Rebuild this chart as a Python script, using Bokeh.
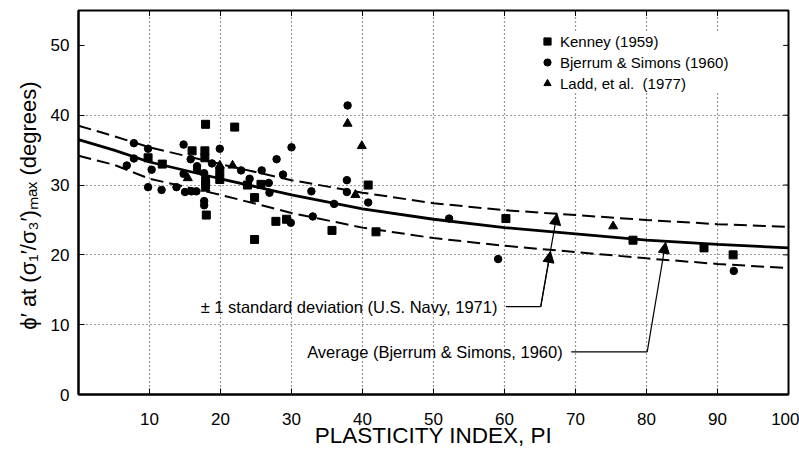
from bokeh.plotting import figure
from bokeh.models import (ColumnDataSource, Range1d, FixedTicker, Legend,
                          LegendItem, Arrow, NormalHead, Label)
from bokeh.embed import file_html
from bokeh.resources import INLINE

# ---------------- data ----------------
kenney_pi = [9.8, 11.8, 16.0, 17.8, 17.8, 17.9, 22.0, 17.9, 17.9, 18.0, 19.9, 19.9,
             23.8, 24.8, 25.7, 24.8, 27.8, 29.3, 35.7, 40.8, 41.9, 60.2, 78.1, 88.1, 92.2]
kenney_phi = [33.9, 33.0, 34.9, 34.9, 33.9, 38.7, 38.3, 30.6, 30.0, 25.7, 31.9, 30.8,
              30.0, 28.2, 30.1, 22.2, 24.8, 25.1, 23.5, 30.0, 23.3, 25.2, 22.1, 21.0, 20.0]

bjerrum_pi = [6.8, 7.8, 7.8, 9.8, 10.3, 9.8, 11.7, 13.8, 14.8, 14.8, 15.0, 15.9, 16.6,
              15.8, 16.7, 16.7, 17.7, 17.7, 17.7, 18.8, 19.9, 22.9, 24.1, 25.8, 26.8,
              26.9, 27.9, 28.8, 30.0, 29.9, 32.8, 33.0, 36.0, 37.8, 37.8, 37.9, 40.8,
              52.2, 59.1, 92.3]
bjerrum_phi = [32.8, 36.0, 33.8, 35.2, 32.2, 29.7, 29.3, 29.7, 35.8, 31.6, 29.0, 29.1, 29.1,
               33.7, 32.7, 32.2, 31.7, 27.7, 27.1, 33.1, 35.2, 32.1, 30.9, 32.1, 30.3,
               28.9, 33.7, 31.5, 35.4, 24.6, 29.1, 25.5, 27.3, 30.7, 29.0, 41.4, 27.5,
               25.2, 19.4, 17.7]

ladd_pi = [15.4, 17.9, 19.9, 21.7, 37.9, 39.9, 39.0, 75.3]
ladd_phi = [31.0, 29.5, 32.8, 32.8, 38.8, 35.6, 28.6, 24.1]

curve_pi = [0, 5, 10, 20, 30, 40, 50, 60, 70, 80, 90, 100]
avg_phi = [36.5, 35.0, 33.3, 30.9, 28.6, 26.6, 25.1, 23.9, 23.0, 22.1, 21.5, 21.0]
upper_phi = [38.5, 37.0, 35.4, 33.0, 30.7, 28.9, 27.4, 26.4, 25.7, 25.0, 24.4, 24.0]
lower_phi = [34.2, 32.9, 30.9, 28.6, 26.0, 23.9, 22.4, 21.3, 20.4, 19.5, 18.7, 18.1]

x_ticks = [10, 20, 30, 40, 50, 60, 70, 80, 90, 100]
y_ticks = [0, 10, 20, 30, 40, 50]
x_grid = [10, 20, 30, 40, 50, 60, 70, 80, 90]
y_grid = [10, 20, 30, 40]
top_ticks = [10, 20, 30, 40, 50, 60, 70, 80, 90]
right_ticks = [10, 20, 30, 40, 50]

series_labels = ["Kenney (1959)", "Bjerrum & Simons (1960)", "Ladd, et al.  (1977)"]

# annotation anchors (data coordinates)
sd_text = "\u00b1 1 standard deviation (U.S. Navy, 1971)"
sd_text_xy = (59.0, 12.6)
sd_leader_x = [60.2, 65.1]
sd_leader_y = [12.6, 12.6]
sd_arrow_low = (66.47, 20.5)
sd_arrow_up = (67.4, 25.9)

avg_text = "Average (Bjerrum & Simons, 1960)"
avg_text_xy = (68.2, 6.1)
avg_leader_x = [69.4, 80.1]
avg_leader_y = [6.1, 6.1]
avg_arrow_tip = (82.7, 21.8)

X_MAX, Y_MAX = 100, 55
FONT = "Liberation Sans"

p = figure(frame_width=710, frame_height=384, output_backend="svg", toolbar_location=None,
           x_range=Range1d(0, X_MAX), y_range=Range1d(0, Y_MAX),
           min_border_left=78, min_border_right=11, min_border_top=10, min_border_bottom=54)
p.background_fill_color = "white"
p.border_fill_color = "white"
p.outline_line_color = "black"
p.outline_line_width = 2

# axes
for ax in (p.xaxis[0], p.yaxis[0]):
    ax.major_tick_in = 6
    ax.major_tick_out = 0
    ax.minor_tick_line_color = None
    ax.axis_line_width = 2
    ax.axis_line_color = "black"
    ax.major_tick_line_color = "black"
    ax.major_label_text_font = FONT
    ax.major_label_text_font_size = "17px"
    ax.major_label_text_color = "black"
    ax.axis_label_text_font = FONT
    ax.axis_label_text_font_style = "normal"
    ax.axis_label_text_color = "black"

p.xaxis[0].ticker = FixedTicker(ticks=x_ticks)
p.yaxis[0].ticker = FixedTicker(ticks=y_ticks)
p.xaxis[0].axis_label = "PLASTICITY INDEX, PI"
p.xaxis[0].axis_label_text_font_size = "22.5px"
p.xaxis[0].major_label_standoff = 18
p.xaxis[0].axis_label_standoff = -5
p.yaxis[0].axis_label = "\u03d5\u2032 at (\u03c3\u2081\u2032/\u03c3\u2083\u2032)\u2098\u2090\u2093  (degrees)"
p.yaxis[0].axis_label_text_font_size = "22px"
p.yaxis[0].major_label_standoff = 9
p.yaxis[0].axis_label_standoff = 7

# inward tick marks on the top and right frame edges
tick_len_y = 0.8   # data units (about 5-6 px)
tick_len_x = 0.75
top_src = ColumnDataSource(dict(x=top_ticks, y0=[Y_MAX] * len(top_ticks),
                                y1=[Y_MAX - tick_len_y] * len(top_ticks)))
p.segment(x0="x", y0="y0", x1="x", y1="y1", source=top_src, line_color="black", line_width=1)
right_src = ColumnDataSource(dict(y=right_ticks, x0=[X_MAX] * len(right_ticks),
                                  x1=[X_MAX - tick_len_x] * len(right_ticks)))
p.segment(x0="x0", y0="y", x1="x1", y1="y", source=right_src, line_color="black", line_width=1)

# grid
p.xgrid.ticker = FixedTicker(ticks=x_grid)
p.ygrid.ticker = FixedTicker(ticks=y_grid)
for g in (p.xgrid[0], p.ygrid[0]):
    g.grid_line_color = "#333333"
    g.grid_line_dash = "1 3"
    g.grid_line_width = 1.2

# curves
src_curve = ColumnDataSource(dict(x=curve_pi, avg=avg_phi, up=upper_phi, lo=lower_phi))
p.line("x", "avg", source=src_curve, line_color="black", line_width=2.8)
p.line("x", "up", source=src_curve, line_color="black", line_width=2.0, line_dash="13 6")
p.line("x", "lo", source=src_curve, line_color="black", line_width=2.0, line_dash="13 6")

# data points
src_k = ColumnDataSource(dict(x=kenney_pi, y=kenney_phi))
src_b = ColumnDataSource(dict(x=bjerrum_pi, y=bjerrum_phi))
src_l = ColumnDataSource(dict(x=ladd_pi, y=ladd_phi))
rk = p.scatter("x", "y", source=src_k, marker="square", size=8, color="black")
rb = p.scatter("x", "y", source=src_b, marker="circle", size=7.5, color="black")
rl = p.scatter("x", "y", source=src_l, marker="triangle", size=9, color="black")

legend = Legend(items=[LegendItem(label=series_labels[0], renderers=[rk]),
                       LegendItem(label=series_labels[1], renderers=[rb]),
                       LegendItem(label=series_labels[2], renderers=[rl])],
                location=(460, 302), glyph_width=18, glyph_height=18, spacing=3,
                label_standoff=4, padding=10, margin=0,
                label_text_font=FONT, label_text_font_size="15px",
                label_text_color="black", border_line_color=None,
                background_fill_color="white", background_fill_alpha=1.0)
p.add_layout(legend)

# annotations
p.line(sd_leader_x, sd_leader_y, line_color="black", line_width=1.2)
p.add_layout(Arrow(end=NormalHead(size=11, fill_color="black", line_color="black"),
                   x_start=sd_leader_x[1], y_start=sd_leader_y[1],
                   x_end=sd_arrow_up[0], y_end=sd_arrow_up[1],
                   line_color="black", line_width=1.2))
p.add_layout(Arrow(end=NormalHead(size=11, fill_color="black", line_color="black"),
                   x_start=sd_leader_x[1], y_start=sd_leader_y[1],
                   x_end=sd_arrow_low[0], y_end=sd_arrow_low[1],
                   line_color="black", line_width=1.2))
p.line(avg_leader_x, avg_leader_y, line_color="black", line_width=1.2)
p.add_layout(Arrow(end=NormalHead(size=11, fill_color="black", line_color="black"),
                   x_start=avg_leader_x[1], y_start=avg_leader_y[1],
                   x_end=avg_arrow_tip[0], y_end=avg_arrow_tip[1],
                   line_color="black", line_width=1.2))

p.add_layout(Label(x=sd_text_xy[0], y=sd_text_xy[1], text=sd_text, text_align="right",
                   text_baseline="middle", text_font=FONT, text_font_size="16.5px",
                   text_color="black"))
p.add_layout(Label(x=avg_text_xy[0], y=avg_text_xy[1], text=avg_text, text_align="right",
                   text_baseline="middle", text_font=FONT, text_font_size="16.5px",
                   text_color="black"))

open("out.html", "w").write(file_html(p, INLINE))
